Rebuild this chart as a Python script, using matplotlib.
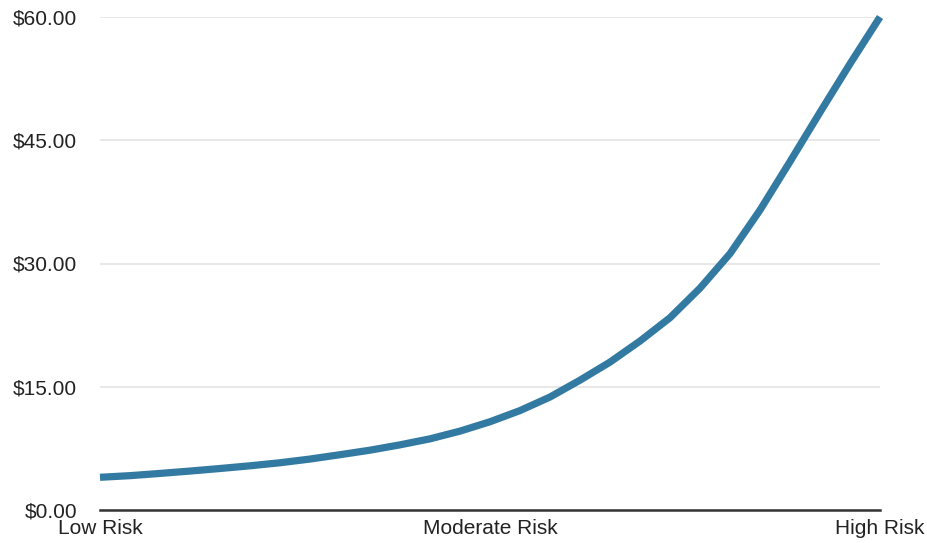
import matplotlib.pyplot as plt
from matplotlib.ticker import FuncFormatter

plt.rcParams['font.family'] = ['Liberation Sans', 'DejaVu Sans']

# values, evenly spaced from Low Risk to High Risk
cost = [3.98, 4.18, 4.45, 4.74, 5.05, 5.38, 5.75, 6.2, 6.73, 7.28,
        7.93, 8.66, 9.6, 10.74, 12.1, 13.75, 15.8, 18.0, 20.56, 23.4,
        27.0, 31.2, 36.5, 42.4, 48.4, 54.3, 60.0]
positions = list(range(len(cost)))
tick_pos = [0, 13, 26]
tick_labels = ['Low Risk', 'Moderate Risk', 'High Risk']
y_ticks = [0, 15, 30, 45, 60]

fig = plt.figure(figsize=(9.28, 5.43), dpi=100)
ax = fig.add_axes([100 / 928, 1 - 510 / 543, 780 / 928, 493 / 543])

ax.plot(positions, cost, color='#337aa3', linewidth=5.2,
        solid_capstyle='butt', solid_joinstyle='round',
        clip_on=False, zorder=3)

ax.set_xlim(0, 26)
ax.set_ylim(0, 60)
ax.set_yticks(y_ticks)
ax.yaxis.set_major_formatter(FuncFormatter(lambda v, p: '${:.2f}'.format(v)))
ax.set_xticks(tick_pos)
ax.set_xticklabels(tick_labels)

ax.grid(axis='y', color='#e4e4e4', linewidth=1.2)
ax.set_axisbelow(True)
for s in ['top', 'right', 'left']:
    ax.spines[s].set_visible(False)
ax.spines['bottom'].set_color('#333333')
ax.spines['bottom'].set_linewidth(1.8)
ax.spines['bottom'].set_zorder(4)

ax.tick_params(axis='y', length=0, pad=16.5, labelsize=15, labelcolor='#222222')
ax.tick_params(axis='x', length=0, pad=6.5, labelsize=15, labelcolor='#222222')

fig.savefig('out.png', dpi=100)
